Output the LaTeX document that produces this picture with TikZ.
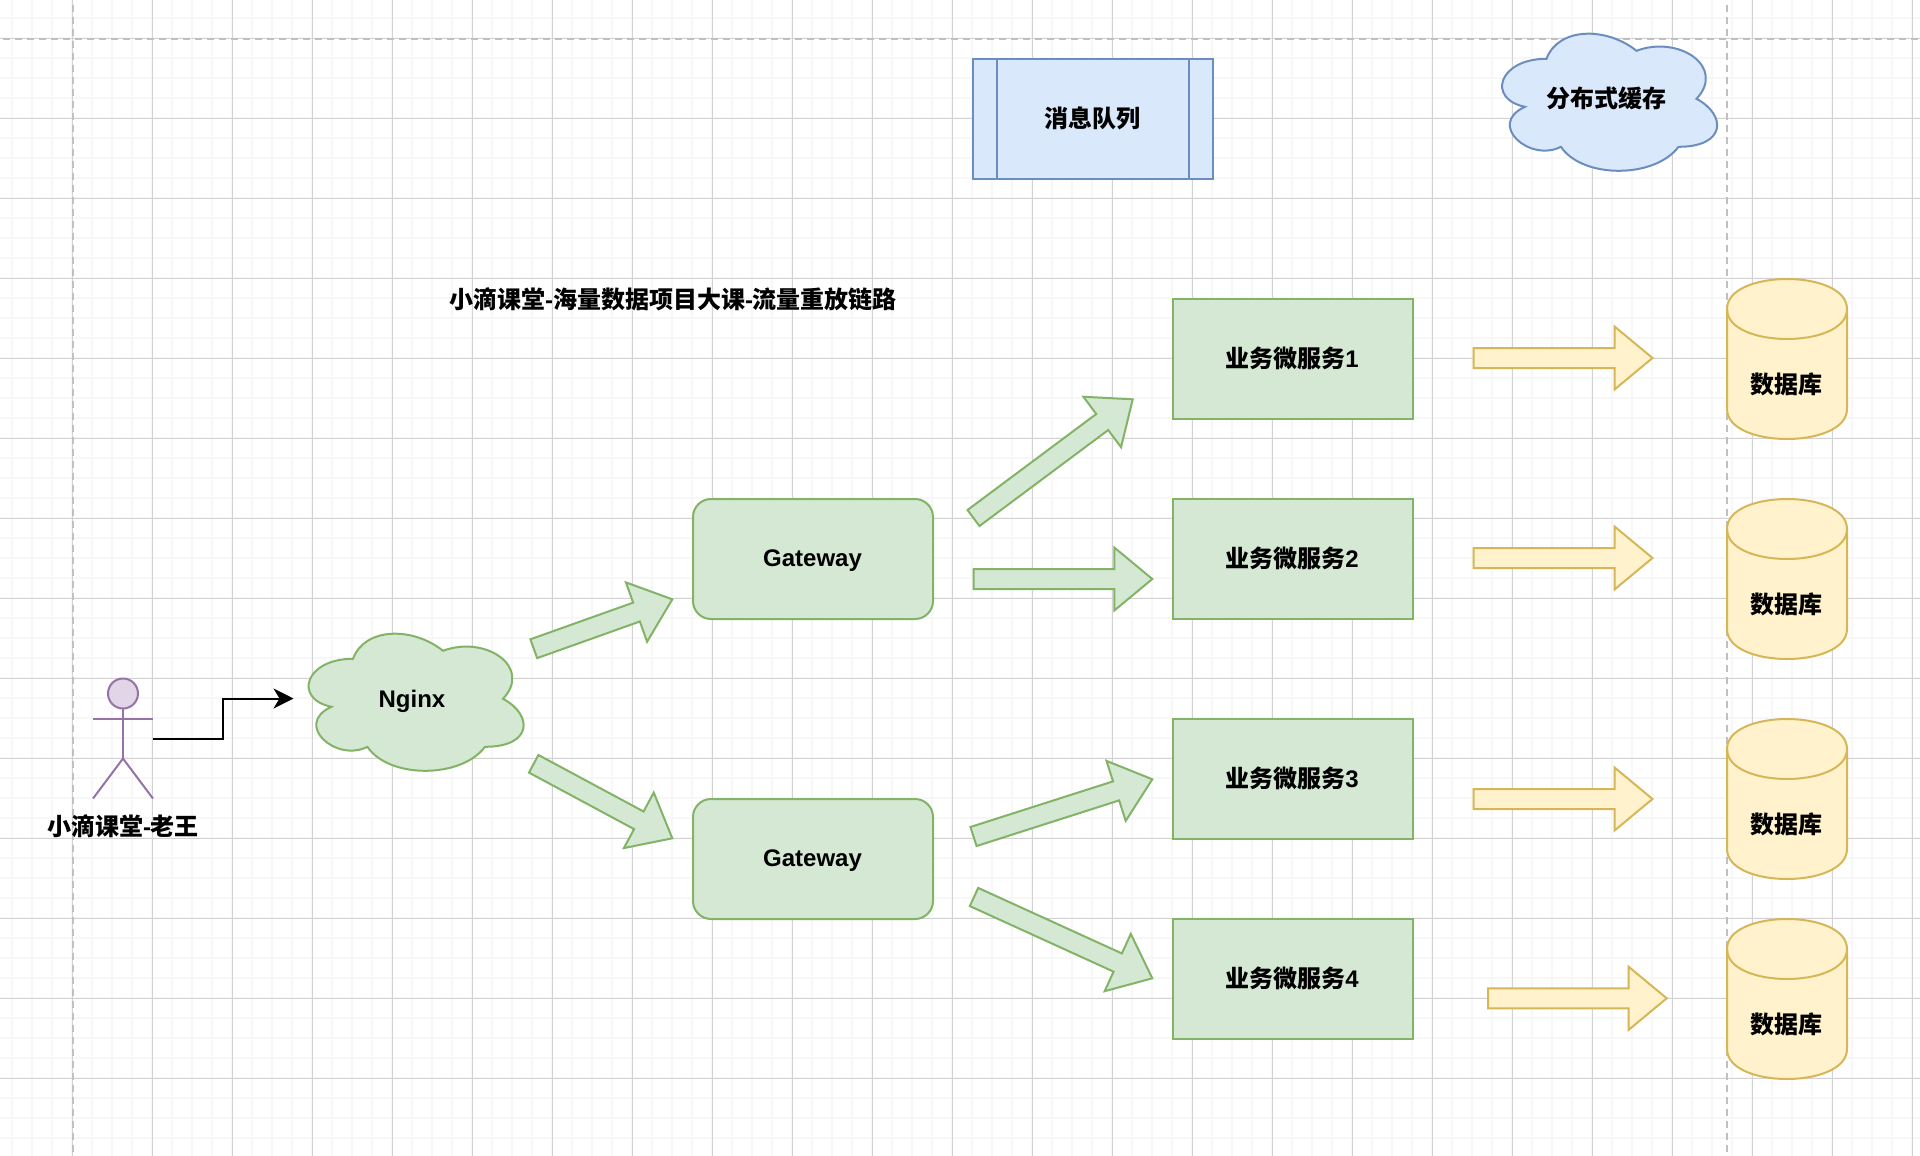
\documentclass[tikz,border=0pt]{standalone}
\usepackage{fontspec}
\setmainfont{Liberation Sans}
\newfontfamily\cjk{Noto Sans CJK SC}
\usetikzlibrary{calc,arrows.meta}
\definecolor{gfill}{HTML}{D5E8D4}\definecolor{gline}{HTML}{82B366}
\definecolor{bfill}{HTML}{DAE8FC}\definecolor{bline}{HTML}{6C8EBF}
\definecolor{yfill}{HTML}{FFF2CC}\definecolor{yline}{HTML}{D6B656}
\definecolor{pfill}{HTML}{E1D5E7}\definecolor{pline}{HTML}{9673A6}
\definecolor{gridminor}{HTML}{F7F7F7}\definecolor{gridmajor}{HTML}{D2D2D2}
\definecolor{guide}{HTML}{C0C0C0}
\tikzset{
  lbl/.style={font=\bfseries\fontsize{24}{28}\selectfont,text=black,inner sep=0pt},
  greenshape/.style={draw=gline,fill=gfill,line width=2pt},
  blueshape/.style={draw=bline,fill=bfill,line width=2pt},
  yellowshape/.style={draw=yline,fill=yfill,line width=2pt},
  purpleshape/.style={draw=pline,line width=2pt},
  svcbox/.style={greenshape,lbl,rectangle,minimum width=240pt,minimum height=120pt,outer sep=0pt},
  gatebox/.style={svcbox,rounded corners=18pt},
  guideline/.style={draw=guide,line width=2pt,dash pattern=on 7pt off 5pt},
  flow/.style={draw=black,line width=2pt,-{Stealth[length=20pt,width=20pt,inset=6pt]}},
}
% style, name, tail, tip
\newcommand{\blockarrow}[4]{%
  \coordinate (#2-a) at (#3);\coordinate (#2-b) at (#4);
  \coordinate (#2-h) at ($(#2-b)!38pt!(#2-a)$);
  \draw[#1,line join=miter]
    ($(#2-a)!10pt!90:(#2-b)$) -- ($(#2-h)!10pt!90:(#2-b)$) -- ($(#2-h)!31.5pt!90:(#2-b)$)
    -- (#2-b) -- ($(#2-h)!31.5pt!-90:(#2-b)$) -- ($(#2-h)!10pt!-90:(#2-b)$)
    -- ($(#2-a)!10pt!-90:(#2-b)$) -- cycle;
}
\newcommand{\cloudshape}[3]{%
  \begin{scope}[shift={(#2,#3)},x=240pt,y=-160pt]
  \draw[#1] (.25,.25) .. controls (.05,.25) and (0,.5) .. (.16,.55)
    .. controls (0,.66) and (.18,.9) .. (.31,.8)
    .. controls (.4,1) and (.7,1) .. (.8,.8)
    .. controls (1,.8) and (1,.6) .. (.875,.5)
    .. controls (1,.3) and (.8,.1) .. (.625,.2)
    .. controls (.5,.05) and (.3,.05) .. (.25,.25) -- cycle;
  \end{scope}}
\newcommand{\cylshape}[2]{%
  \begin{scope}[shift={(#1,#2)},x=1pt,y=-1pt]
  \draw[yellowshape] (0,30) .. controls (0,-10) and (120,-10) .. (120,30) -- (120,130)
    .. controls (120,170) and (0,170) .. (0,130) -- cycle;
  \draw[yellowshape,fill=none] (0,30) .. controls (0,70) and (120,70) .. (120,30);
  \end{scope}}
\begin{document}
\begin{tikzpicture}[x=1pt,y=-1pt]
\useasboundingbox (0,0) rectangle (1920,1156);
\fill[white] (0,0) rectangle (1920,1156);
% grid
\foreach \i in {0,...,95}{\draw[gridminor,line width=2pt] ({12+20*\i},0) -- ({12+20*\i},1156);}
\foreach \i in {0,...,57}{\draw[gridminor,line width=2pt] (0,{18+20*\i}) -- (1920,{18+20*\i});}
\foreach \i in {0,...,23}{\draw[gridmajor,line width=1pt] ({72.5+80*\i},0) -- ({72.5+80*\i},1156);}
\foreach \i in {0,...,13}{\draw[gridmajor,line width=1pt] (0,{38.5+80*\i}) -- (1920,{38.5+80*\i});}
% guides
\coordinate (gh1) at (3,38.7);\coordinate (gh2) at (1920,38.7);
\coordinate (gv1) at (73,5);\coordinate (gv2) at (73,1156);
\coordinate (gv3) at (1727,5);\coordinate (gv4) at (1727,1156);
\draw[guideline] (gh1) -- (gh2);
\draw[guideline] (gv1) -- (gv2);
\draw[guideline] (gv3) -- (gv4);
% message queue
\node[blueshape,rectangle,minimum width=240pt,minimum height=120pt,outer sep=0pt] (mq) at (1093,119) {};
\draw[blueshape,fill=none] ($(mq.north west)+(24,0)$) -- ($(mq.south west)+(24,0)$);
\draw[blueshape,fill=none] ($(mq.north east)+(-24,0)$) -- ($(mq.south east)+(-24,0)$);
\node[lbl] (mqt) at (1092,118) {\cjk 消息队列};
% clouds
\cloudshape{blueshape}{1486.5}{18.8}
\node[lbl] (cachet) at (1606,98) {\cjk 分布式缓存};
\cloudshape{greenshape}{293}{618.8}
\node[lbl] (nginx) at (412,701) {Nginx};
% title
\node[lbl] (title) at (673,299) {{\cjk 小滴课堂}-{\cjk 海量数据项目大课}-{\cjk 流量重放链路}};
% actor
\node[purpleshape,fill=pfill,circle,inner sep=0pt,minimum size=30pt,outer sep=0pt] (head) at (123,693.5) {};
\coordinate (armL) at (93,718.5);\coordinate (armR) at (153,718.5);
\coordinate (hip) at (123,758.5);\coordinate (legL) at (93,798.5);\coordinate (legR) at (153,798.5);
\draw[purpleshape] (head.south) -- (hip);
\draw[purpleshape] (armL) -- (armR);
\draw[purpleshape] (legL) -- (hip) -- (legR);
\node[lbl] (actor) at (123,826) {{\cjk 小滴课堂}-{\cjk 老王}};
\coordinate (hand) at (153,738.5);\coordinate (elbow) at (222.8,718.5);\coordinate (nginxin) at (293.5,698.5);
\draw[flow] (hand) -| (elbow) |- (nginxin);
% gateways
\node[gatebox] (g1) at (813,559) {};
\node[gatebox] (g2) at (813,859) {};
\node[lbl] (g1t) at (812.5,561) {Gateway};
\node[lbl] (g2t) at (812.5,861) {Gateway};
% services
\node[svcbox] (s1) at (1293,359) {};
\node[svcbox] (s2) at (1293,559) {};
\node[svcbox] (s3) at (1293,779) {};
\node[svcbox] (s4) at (1293,979) {};
\node[lbl] (s1t) at (1292,358.5) {{\cjk 业务微服务}1};
\node[lbl] (s2t) at (1292,558.5) {{\cjk 业务微服务}2};
\node[lbl] (s3t) at (1292,778.5) {{\cjk 业务微服务}3};
\node[lbl] (s4t) at (1292,978.5) {{\cjk 业务微服务}4};
% databases
\cylshape{1727}{279}\cylshape{1727}{499}\cylshape{1727}{719}\cylshape{1727}{919}
\node[lbl] (d1) at (1786,384) {\cjk 数据库};
\node[lbl] (d2) at (1786,604) {\cjk 数据库};
\node[lbl] (d3) at (1786,824) {\cjk 数据库};
\node[lbl] (d4) at (1786,1024) {\cjk 数据库};
% block arrows
\blockarrow{greenshape}{a1}{533.8,648.7}{672.3,599.3}
\blockarrow{greenshape}{a2}{533.7,763.8}{672.3,838.3}
\blockarrow{greenshape}{a3}{973.5,518}{1132.7,399.3}
\blockarrow{greenshape}{a4}{973.7,579}{1152.3,579}
\blockarrow{greenshape}{a5}{973.5,836.5}{1152.3,779.3}
\blockarrow{greenshape}{a6}{974,897}{1152.3,978.3}
\blockarrow{yellowshape}{a7}{1473.5,358}{1652.5,358}
\blockarrow{yellowshape}{a8}{1473.5,558}{1652.5,558}
\blockarrow{yellowshape}{a9}{1473.5,799}{1652.5,799}
\blockarrow{yellowshape}{a10}{1488,998.3}{1666.7,998.3}
\end{tikzpicture}
\end{document}
